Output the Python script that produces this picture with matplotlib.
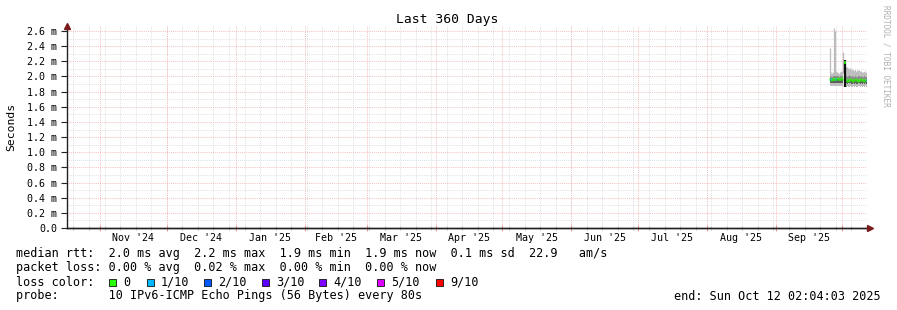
import matplotlib
matplotlib.use("Agg")
import matplotlib.pyplot as plt
import matplotlib.dates as mdates
from matplotlib.patches import Rectangle
from matplotlib.ticker import FixedLocator, MultipleLocator
import pandas as pd

# --- data (values in ms) ---
end_time = pd.Timestamp("2025-10-12 02:04:03")
start_time = end_time - pd.Timedelta(days=360)

month_labels = ["Nov '24", "Dec '24", "Jan '25", "Feb '25", "Mar '25", "Apr '25",
                "May '25", "Jun '25", "Jul '25", "Aug '25", "Sep '25"]

# first block of measurements
times_a = pd.date_range("2025-09-25 06:00", "2025-10-01 06:00", freq="12h")
median_a = [1.96, 1.97, 1.95, 1.96, 1.97, 1.96, 1.97, 1.98, 1.97, 1.96, 1.97, 1.98, 1.97]
loss_a = [0, 1, 0, 0, 0, 1, 0, 0, 0, 0, 0, 0, 0]
low_a = [1.87, 1.87, 1.88, 1.87, 1.88, 1.87, 1.88, 1.88, 1.87, 1.88, 1.87, 1.88, 1.87]
inlow_a = [1.91, 1.92, 1.91, 1.92, 1.92, 1.91, 1.92, 1.92, 1.92, 1.91, 1.92, 1.92, 1.92]
inhigh_a = [1.99, 2.0, 1.99, 1.99, 2.0, 2.0, 2.0, 2.01, 2.0, 1.99, 2.0, 2.01, 2.0]
high_a = [2.03, 2.04, 2.03, 2.03, 2.04, 2.03, 2.04, 2.05, 2.04, 2.03, 2.04, 2.05, 2.04]
max_a = [2.37, 2.06, 2.05, 2.06, 2.64, 2.6, 2.07, 2.06, 2.05, 2.06, 2.07, 2.06, 2.32]

# the single dark column between the blocks
spike_time = pd.Timestamp("2025-10-02 00:00")
spike_low = 1.86
spike_high = 2.22
spike_median = 2.19

# second block of measurements
times_b = pd.date_range("2025-10-02 12:00", "2025-10-12 00:00", freq="12h")
median_b = [1.95, 1.95, 1.94, 1.95, 1.96, 1.95, 1.94, 1.95, 1.95, 1.96, 1.95, 1.94,
            1.95, 1.95, 1.96, 1.95, 1.94, 1.95, 1.95, 1.95]
loss_b = [0, 0, 0, 0, 0, 0, 0, 0, 0, 0, 0, 0, 0, 0, 0, 0, 0, 0, 0, 1]
low_b = [1.86, 1.86, 1.87, 1.86, 1.87, 1.86, 1.86, 1.87, 1.86, 1.87, 1.86, 1.86,
         1.87, 1.86, 1.87, 1.86, 1.87, 1.86, 1.87, 1.86]
inlow_b = [1.9, 1.91, 1.9, 1.91, 1.91, 1.9, 1.9, 1.91, 1.9, 1.91, 1.9, 1.9,
           1.91, 1.9, 1.91, 1.9, 1.91, 1.9, 1.91, 1.9]
inhigh_b = [2.0, 2.0, 1.99, 2.0, 2.0, 1.99, 2.0, 1.99, 1.99, 2.0, 1.99, 1.99,
            2.0, 1.99, 2.0, 1.99, 1.99, 2.0, 1.99, 1.99]
high_b = [2.08, 2.09, 2.08, 2.08, 2.09, 2.07, 2.08, 2.07, 2.07, 2.08, 2.06, 2.06,
          2.07, 2.06, 2.06, 2.05, 2.05, 2.06, 2.05, 2.05]
max_b = [2.12, 2.12, 2.11, 2.1, 2.11, 2.09, 2.1, 2.09, 2.08, 2.09, 2.08, 2.07,
         2.08, 2.07, 2.07, 2.06, 2.06, 2.07, 2.06, 2.06]

loss_names = ["0", "1/10", "2/10", "3/10", "4/10", "5/10", "9/10"]
loss_colors = ["#26ff00", "#00b8ff", "#0059ff", "#5e00ff", "#7e00ff", "#dd00ff", "#ff0000"]

legend_lines = [
    "median rtt:  2.0 ms avg  2.2 ms max  1.9 ms min  1.9 ms now  0.1 ms sd  22.9   am/s",
    "packet loss: 0.00 % avg  0.02 % max  0.00 % min  0.00 % now",
    "loss color:",
    "probe:       10 IPv6-ICMP Echo Pings (56 Bytes) every 80s",
]
end_label = "end: Sun Oct 12 02:04:03 2025"

MONO = "DejaVu Sans Mono"
W, H = 897, 310
MINOR_C = "#d8d8d8"
MAJOR_C = "#f2acac"
DOTS = (0, (1, 1.3))

fig = plt.figure(figsize=(W / 100, H / 100), dpi=100)
fig.patch.set_facecolor("white")
ax = fig.add_axes([67 / W, (H - 228) / H, 800 / W, (228 - 26) / H])

x0 = mdates.date2num(start_time)
x1 = mdates.date2num(end_time)
ax.set_xlim(x0, x1)
ax.set_ylim(0, 2.6 + 5 / 15.15 * 0.2)

# grid: weeks (gray) and months (red)
months = pd.date_range("2024-11-01", "2025-10-01", freq="MS")
weeks = pd.date_range("2024-10-20", "2025-10-12", freq="7D")
month_nums = mdates.date2num(months)
week_nums = mdates.date2num(weeks)

for w in week_nums:
    ax.axvline(w, color=MINOR_C, lw=0.6, ls=DOTS, zorder=0)
for m in month_nums:
    ax.axvline(m, color=MAJOR_C, lw=0.6, ls=DOTS, zorder=0.5)
for v in [i * 0.1 for i in range(1, 27)]:
    if round(v * 10) % 2:
        ax.axhline(v, color=MINOR_C, lw=0.6, ls=DOTS, zorder=0)
    else:
        ax.axhline(v, color=MAJOR_C, lw=0.6, ls=DOTS, zorder=0.5)

# smoke and median
for times, low, inlow, inhigh, high, mx, med, loss in [
    (times_a, low_a, inlow_a, inhigh_a, high_a, max_a, median_a, loss_a),
    (times_b, low_b, inlow_b, inhigh_b, high_b, max_b, median_b, loss_b),
]:
    t = mdates.date2num(times)
    ax.vlines(t, high, mx, color="#bcbcbc", lw=0.9, zorder=2)
    ax.fill_between(t, low, high, step="mid", color="#bebebe", lw=0, zorder=2)
    ax.fill_between(t, inlow, inhigh, step="mid", color="#8c8c8c", lw=0, zorder=3)
    ax.fill_between(t, inlow, med, step="mid", color="#5c5c5c", lw=0, zorder=3)
    half = 0.25
    ax.hlines(med, t - half, t + half, colors=[loss_colors[k] for k in loss],
              lw=2.0, zorder=4)

ts = mdates.date2num(spike_time)
ax.vlines([ts], [spike_low], [spike_high], color="#111111", lw=1.6, zorder=4)
ax.vlines([ts + 0.3], [spike_median - 0.03], [spike_median + 0.01], color=loss_colors[0], lw=1.2, zorder=5)

# axes styling
for s in ["top", "right"]:
    ax.spines[s].set_visible(False)
for s in ["left", "bottom"]:
    ax.spines[s].set_color("#222222")
    ax.spines[s].set_linewidth(1.0)

ax.xaxis.set_major_locator(FixedLocator(month_nums))
ax.xaxis.set_minor_locator(FixedLocator(week_nums))
ax.set_xticklabels([])
ax.tick_params(axis="x", which="major", direction="inout", length=4, color="#e49a9a", width=0.8)
ax.tick_params(axis="x", which="minor", direction="inout", length=3, color="#cccccc", width=0.8)

ax.yaxis.set_major_locator(MultipleLocator(0.2))
ax.yaxis.set_minor_locator(MultipleLocator(0.1))
yt = [i * 0.2 for i in range(14)]
ax.set_yticks(yt)
ax.set_yticklabels(["0.0"] + [f"{v:.1f} m" for v in yt[1:]], fontfamily=MONO, fontsize=7.2)
ax.tick_params(axis="y", which="major", direction="out", length=4, color="#222222", pad=3)
ax.tick_params(axis="y", which="minor", length=0)

mid_months = [mdates.date2num(m + (n - m) / 2) for m, n in zip(months[:-1], months[1:])]
for xm, lab in zip(mid_months, month_labels):
    ax.text(xm, -10 / 202, lab, ha="center", va="center", fontfamily=MONO, fontsize=7.2,
            transform=ax.get_xaxis_transform())

# arrows at the ends of the axes
ax.plot([0], [1.0], marker="^", color="#7a1a1a", ms=4, transform=ax.transAxes, clip_on=False, zorder=6)
ax.plot([1.0035], [0], marker=">", color="#7a1a1a", ms=4, transform=ax.transAxes, clip_on=False, zorder=6)
ax.plot([0, 1.003], [0, 0], color="#222222", lw=1.0, transform=ax.transAxes, clip_on=False, zorder=5)

# titles and labels
fig.text(447 / W, 1 - 19 / H, "Last 360 Days", ha="center", va="center", fontfamily=MONO, fontsize=9.4)
fig.text(11 / W, 1 - 127 / H, "Seconds", rotation=90, ha="center", va="center", fontfamily=MONO, fontsize=8.2)
fig.text(886 / W, 1 - 5 / H, "RRDTOOL / TOBI OETIKER", rotation=270, ha="center", va="top",
         fontfamily=MONO, fontsize=5.6, color="#b0b0b0")

# legend block
legend_y = [254, 268, 282, 296]
for line, yy in zip(legend_lines, legend_y):
    fig.text(16 / W, 1 - yy / H, line, ha="left", va="center", fontfamily=MONO, fontsize=8.5)
fig.text(881 / W, 1 - 296 / H, end_label, ha="right", va="center", fontfamily=MONO, fontsize=8.5)

box_x = [109, 147, 204, 262, 319, 377, 436]
for bx, name, col in zip(box_x, loss_names, loss_colors):
    fig.patches.append(Rectangle((bx / W, 1 - 286 / H), 7 / W, 7 / H, transform=fig.transFigure,
                                 facecolor=col, edgecolor="#111111", lw=0.6))
    fig.text((bx + 14) / W, 1 - 282 / H, name, ha="left", va="center", fontfamily=MONO, fontsize=8.5)

fig.savefig("out.png", dpi=100)
